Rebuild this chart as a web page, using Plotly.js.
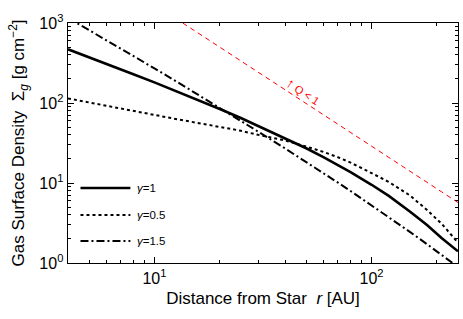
<!DOCTYPE html>
<html>
<head>
<meta charset="utf-8">
<script src="https://cdn.plot.ly/plotly-3.0.1.min.js"></script>
<style>html,body{margin:0;padding:0;background:#fff;}#chart{width:463px;height:319px;}</style>
</head>
<body>
<div id="chart"></div>
<script>
// Distance from star r [AU]
const radius = [4, 5, 6, 8, 10, 13, 16, 20, 25, 30, 40, 50, 60, 70, 80, 100, 120, 150, 180, 210, 250];
// Gas surface density [g cm^-2]
const sigmaGamma1   = [469, 374, 310, 229, 181, 136, 108, 84, 65, 52, 36.4, 27.2, 21.0, 16.8, 13.7, 9.5, 6.9, 4.4, 2.98, 2.06, 1.4];
const sigmaGamma05  = [114, 102, 93, 80, 71, 62, 56, 50, 45, 40, 34, 28.5, 24.5, 21, 18, 13.3, 10.3, 7.0, 4.6, 3.1, 1.8];
const sigmaGamma15  = [1160, 817, 612, 387, 271, 177, 126, 87, 60, 44, 27, 18.4, 13.3, 10.1, 7.95, 5.27, 3.75, 2.45, 1.72, 1.26, 0.89];
// Q = 1 boundary
const qRadius = [13.5, 250];
const qSigma  = [1000, 5.7];
const legendNames = ['<i>γ</i>=1', '<i>γ</i>=0.5', '<i>γ</i>=1.5'];
const yTickVals = [1, 10, 100, 1000];
const yTickText = ['10<sup>0</sup>', '10<sup>1</sup>', '10<sup>2</sup>', '10<sup>3</sup>'];
const xTickVals = [10, 100];
const xTickText = ['10<sup>1</sup>', '10<sup>2</sup>'];

const lineStyles = [
  {color: '#000', width: 2.6, dash: 'solid'},
  {color: '#000', width: 2, dash: '3px,3px'},
  {color: '#000', width: 2, dash: '8px,3px,2px,3px'}
];
const seriesList = [sigmaGamma1, sigmaGamma05, sigmaGamma15];

const traces = seriesList.map((s, i) => ({
  x: radius, y: s, mode: 'lines', name: legendNames[i], showlegend: false, line: lineStyles[i]
}));
traces.push({x: qRadius, y: qSigma, mode: 'lines', showlegend: false,
   line: {color: '#ff0000', width: 1, dash: '5px,4px'}});

// hand-made legend (longer line samples like the reference)
const legendY = [0.3125, 0.2, 0.092];
const shapes = [];
const annotations = [];
legendNames.forEach((n, i) => {
  shapes.push({type: 'line', xref: 'paper', yref: 'paper', x0: 0.032, x1: 0.16, y0: legendY[i], y1: legendY[i],
               line: lineStyles[i]});
  annotations.push({xref: 'paper', yref: 'paper', x: 0.172, y: legendY[i], xanchor: 'left', yanchor: 'middle',
                    text: n, showarrow: false, font: {size: 11.5, color: '#000'}});
});
annotations.push({
  xref: 'paper', yref: 'paper', x: 0.603, y: 0.8,
  text: '<span style="font-size:14px">↑</span> Q < 1', showarrow: false,
  textangle: 33, font: {size: 11, color: '#ff0000'}
});

const axisCommon = {
  type: 'log', showgrid: false, zeroline: false, showline: true, linecolor: '#000', linewidth: 1.4,
  mirror: 'ticks', ticks: 'inside', ticklen: 6, tickwidth: 1, tickcolor: '#000',
  tickmode: 'array', tickfont: {family: 'Liberation Sans, Arial, sans-serif', size: 16, color: '#000'},
  minor: {dtick: 'D1', ticks: 'inside', ticklen: 3, tickwidth: 1, tickcolor: '#000', showgrid: false}
};

const layout = {
  width: 463, height: 319,
  margin: {l: 67.5, r: 5, t: 23, b: 56},
  paper_bgcolor: '#fff', plot_bgcolor: '#fff',
  font: {family: 'Liberation Sans, Arial, sans-serif', color: '#000'},
  xaxis: Object.assign({}, axisCommon, {
    range: [Math.log10(4), Math.log10(250)],
    tickvals: xTickVals, ticktext: xTickText,
    title: {text: 'Distance from Star  <i>r</i> [AU]', font: {size: 17}, standoff: 6}
  }),
  yaxis: Object.assign({}, axisCommon, {
    range: [0, 3],
    tickvals: yTickVals, ticktext: yTickText,
    title: {text: 'Gas Surface Density  Σ<sub><i>g</i></sub> [g cm<sup>−2</sup>]', font: {size: 17}, standoff: 10}
  }),
  showlegend: false,
  shapes: shapes,
  annotations: annotations
};

Plotly.newPlot('chart', traces, layout, {displayModeBar: false, staticPlot: true});
</script>
</body>
</html>
